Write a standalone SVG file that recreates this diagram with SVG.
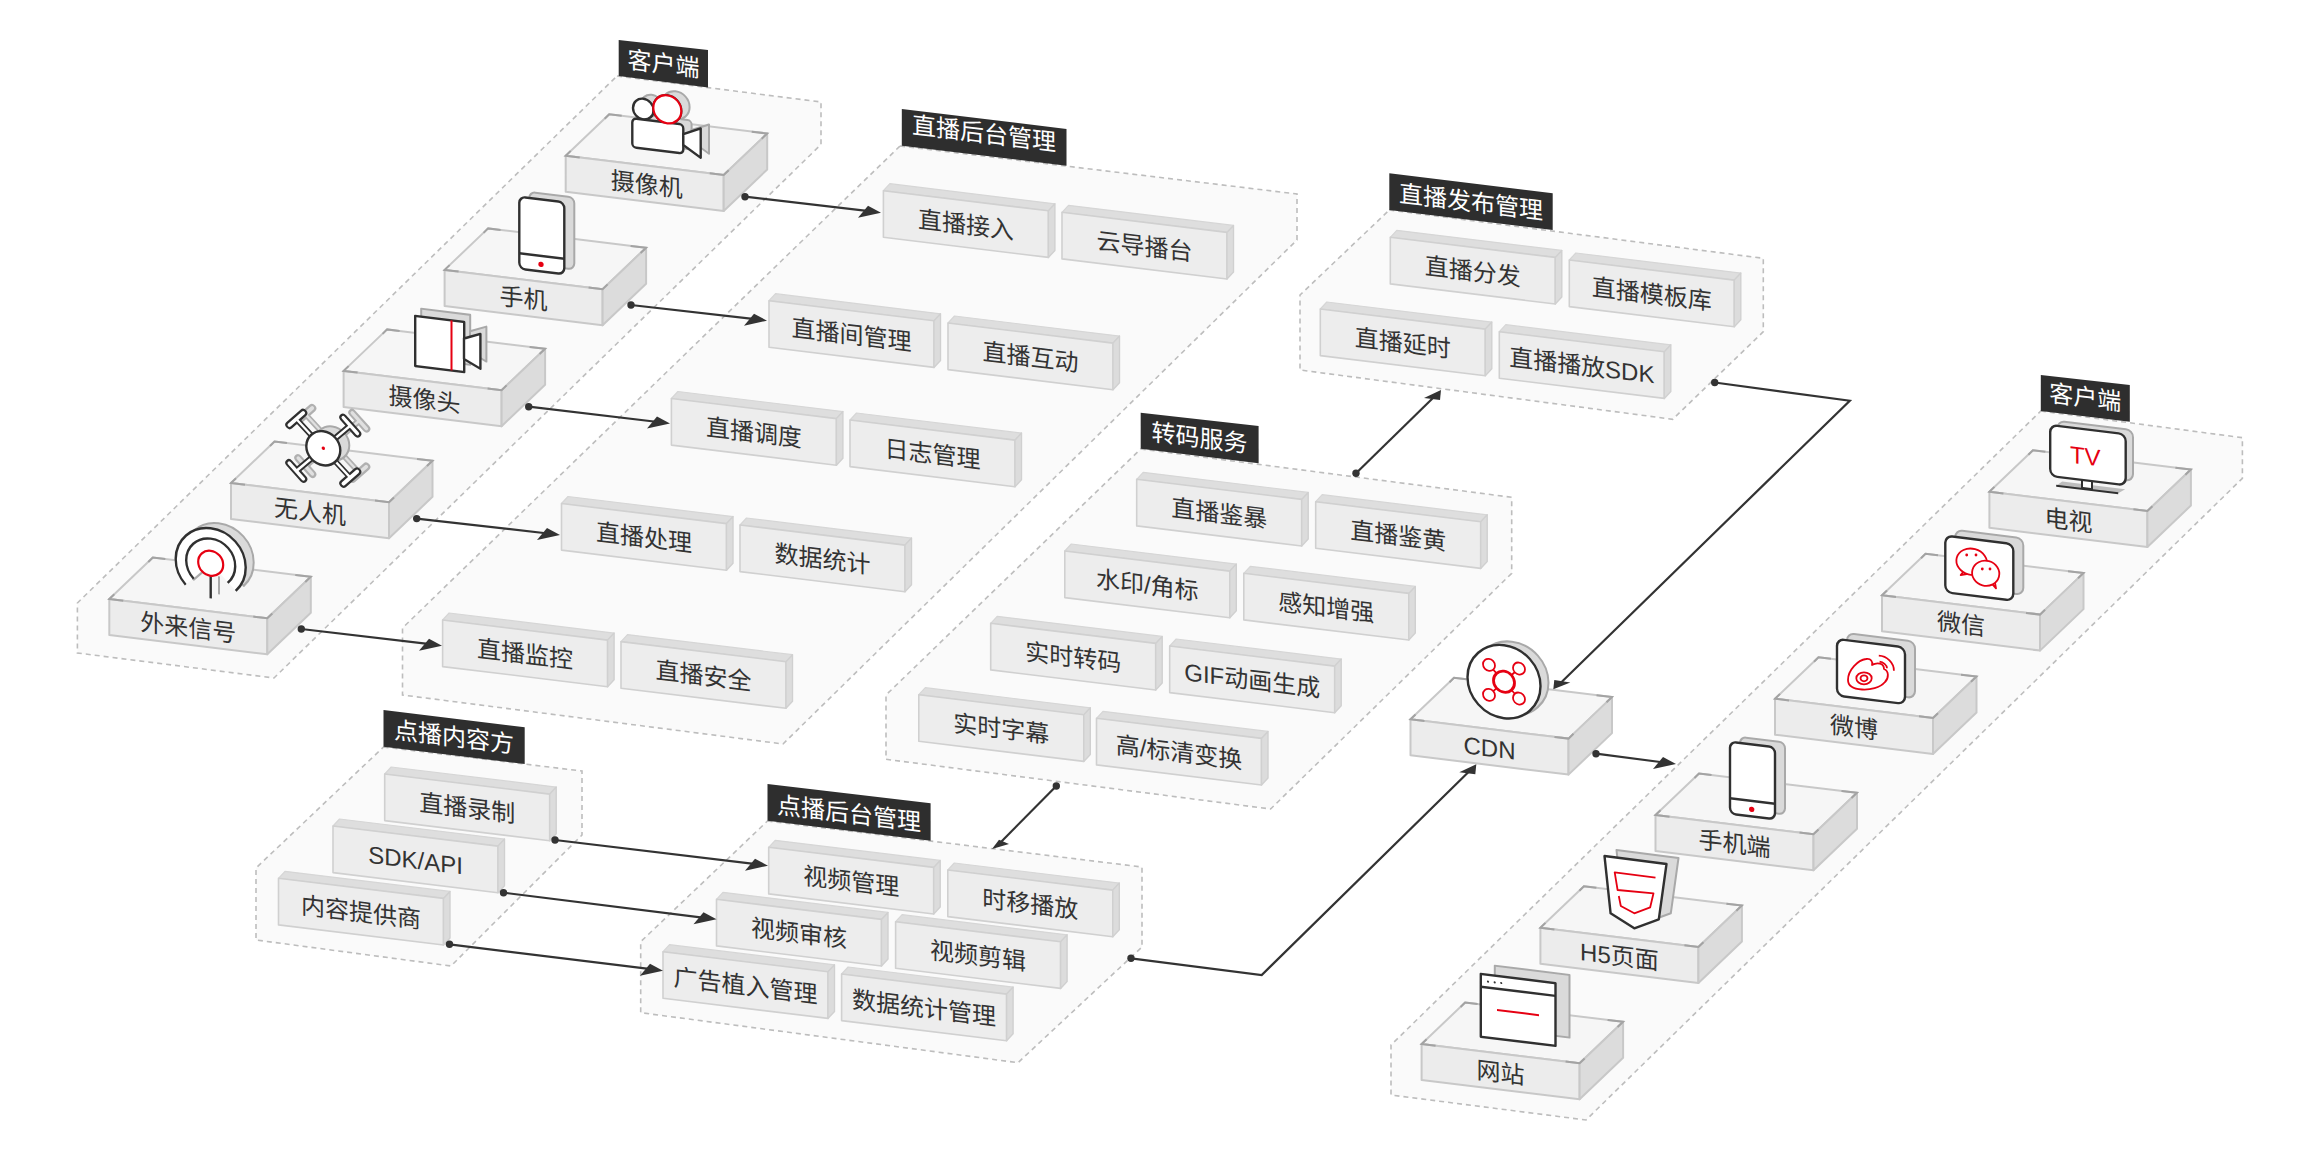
<svg xmlns="http://www.w3.org/2000/svg" width="2320" height="1160" viewBox="0 0 2320 1160">
<style>
text{font-family:"Liberation Sans","Noto Sans CJK SC",sans-serif;font-size:24px;text-anchor:middle;fill:#333}
.lt{fill:#fff}
.tv{fill:#e60012}
.zone{fill:#fafafa;stroke:#bdbdbd;stroke-width:1.6;stroke-dasharray:5 4}
.tag{fill:#2e2e2e}
.c{fill:none;stroke:#333;stroke-width:2.2;marker-start:url(#dot);stroke-linejoin:miter}
.ah{fill:#333}
.bf{fill:#ececec;stroke:#c8c8c8;stroke-width:2;stroke-linejoin:round}
.bt{fill:#f6f6f6;stroke:#c8c8c8;stroke-width:2;stroke-linejoin:round}
.bs{fill:#dcdcdc;stroke:#c8c8c8;stroke-width:2;stroke-linejoin:round}
.bm{fill:none;stroke:#a3a3a3;stroke-width:2}
.cf{fill:#ededed;stroke:#d0d0d0;stroke-width:1.6;stroke-linejoin:round}
.ct{fill:#dedede;stroke:#d6d6d6;stroke-width:1.2;stroke-linejoin:round}
.cs{fill:#dcdcdc;stroke:#d0d0d0;stroke-width:1.4;stroke-linejoin:round}
.sh{fill:#dadada;stroke:#a9a9a9;stroke-width:2;stroke-linejoin:round}
.fr{fill:#fff;stroke:#303030;stroke-width:2.4;stroke-linejoin:round}
.rl{fill:none;stroke:#e60012;stroke-width:1.8;stroke-linejoin:round}
.rw{fill:#fff;stroke:#e60012;stroke-width:1.8;stroke-linejoin:round}
.rd{fill:#e60012}
.ln{fill:none;stroke:#303030;stroke-width:2.4}
.sl{fill:none;stroke:#a9a9a9;stroke-width:2}
</style>
<defs>
<marker id="dot" markerUnits="userSpaceOnUse" markerWidth="8" markerHeight="8" refX="0" refY="0" overflow="visible" orient="0"><circle class="ah" r="3.7"/></marker>
<marker id="ah" markerUnits="userSpaceOnUse" markerWidth="8" markerHeight="8" refX="-12" refY="-1.5" overflow="visible" orient="0"><path class="ah" d="M0,0L-23,5L-13,-7Z"/></marker>
<marker id="aur" markerUnits="userSpaceOnUse" markerWidth="8" markerHeight="8" refX="-6" refY="6" overflow="visible" orient="0"><path class="ah" d="M0,0L-17,8L-1,10Z"/></marker>
<marker id="adl" markerUnits="userSpaceOnUse" markerWidth="8" markerHeight="8" refX="6" refY="-5" overflow="visible" orient="0"><path class="ah" d="M0,0L1,-9.3L17,-6.7Z"/></marker>
<marker id="adm" markerUnits="userSpaceOnUse" markerWidth="8" markerHeight="8" refX="7" refY="-5" overflow="visible" orient="0"><path class="ah" d="M0,0L7,-9.3L17,-5Z"/></marker>
<g id="box">
<path class="bt" d="M0,0L43.5,-41.5L201.5,-22.2L158,19.3Z"/>
<path class="bf" d="M0,0L158,19.3V55.3L0,36Z"/>
<path class="bs" d="M158,19.3L201.5,-22.2V13.8L158,55.3Z"/>
<path class="bm" d="M14,1.7L0,0L5,-4.8M39,-37L43.5,-41.5L56,-40M186,-24L201.5,-22.2L196,-17M144,17.6L158,19.3L163,14.5"/>
</g>
<g id="card">
<path class="ct" d="M0,0L6.5,-7L171.5,13.1L165,20.1Z"/>
<path class="cf" d="M0,0L165,20.1V66.7L0,46.6Z"/>
<path class="cs" d="M165,20.1L171.5,13.1V59.7L165,66.7Z"/>
</g>
<rect id="phone" width="45" height="72" rx="6"/>
<rect id="tile" width="68" height="56.6" rx="7"/>
<g id="movie"><circle cx="11" cy="-10.6" r="10.3"/><circle cx="35" cy="-13.3" r="14"/><rect width="51" height="29" rx="4"/><path d="M51,9.5L68.4,1.7V31L51,20.5Z"/></g>
<g id="webcam"><rect width="49" height="50"/><path d="M48.8,16.5L65.2,9.9V44.8L48.8,37Z"/></g>
<path id="fan" d="M-25,24.5A35,35 0 1 1 25,24.5L0,0Z"/>
<path id="darm" d="M-27,-26L27,26M27,-26L-27,26"/>
<path id="dbar" d="M-34,-19L-20,-33M20,-33L34,-19M-34,19L-20,33M20,33L34,19"/>
<path id="shield" d="M64.1,-71.7L126.1,-63.7L118.4,-8.4L93.9,.6L70.2,-14.4Z"/>
<rect id="win" width="74.7" height="62.7"/>
</defs>

<g id="zones">
<g id="zone-client-left"><path class="zone" d="M617,76L821,102V144.5L274,678L77.4,653V603Z"/><path class="tag" d="M618.7,40L708,50V87.5L618.7,76Z"/><text class="lt" transform="translate(663.4,46.5) skewY(7)" y="26">客户端</text></g>
<g id="zone-live-admin"><path class="zone" d="M900,146L1297,194V240L783,744L402.5,695V628Z"/><path class="tag" d="M901.8,109L1066.5,129V165.7L901.8,145.7Z"/><text class="lt" transform="translate(984,116) skewY(7)" y="26">直播后台管理</text></g>
<g id="zone-publish"><path class="zone" d="M1389.3,210L1763.3,258.3V331.7L1672.7,419.3L1300,370V295Z"/><path class="tag" d="M1389.3,173.3L1552.7,193.3V230L1389.3,210Z"/><text class="lt" transform="translate(1471,184.5) skewY(7)" y="26">直播发布管理</text></g>
<g id="zone-transcode"><path class="zone" d="M1140.7,449L1511.7,497.3V573.3L1270.6,809L886,759.3V695Z"/><path class="tag" d="M1140.7,412.7L1258.6,426V463.3L1140.7,448.7Z"/><text class="lt" transform="translate(1199.6,420.5) skewY(7)" y="26">转码服务</text></g>
<g id="zone-vod-source"><path class="zone" d="M383.5,747L582,771V835L451,966L256,940V868Z"/><path class="tag" d="M383.5,710L524.7,727.3V764L383.5,746.7Z"/><text class="lt" transform="translate(454,719.5) skewY(7)" y="26">点播内容方</text></g>
<g id="zone-vod-admin"><path class="zone" d="M767.5,821L1142,867V947L1018,1062.7L640.7,1012.7V941.7Z"/><path class="tag" d="M767.5,784L930.6,803.3V840.7L767.5,820.7Z"/><text class="lt" transform="translate(849,796) skewY(7)" y="26">点播后台管理</text></g>
<g id="zone-client-right"><path class="zone" d="M2040.8,411L2242.4,437.7V478.3L1586,1120L1391,1095V1045Z"/><path class="tag" d="M2040.8,375L2129.8,385V421.7L2040.8,411Z"/><text class="lt" transform="translate(2085.3,380) skewY(7)" y="26">客户端</text></g>
</g>

<g id="n-camera" transform="translate(565.7,155.7)"><use href="#box"/><text transform="skewY(7)" x="81" y="27.5">摄像机</text>
<g transform="translate(66.6,-37.4) skewY(7)"><use href="#movie" class="sh" x="8.3" y="-5"/><use href="#movie" class="fr"/><circle class="rw" cx="35" cy="-13.3" r="14" style="stroke-width:2.2"/></g></g>
<g id="n-phone" transform="translate(444.6,269.9)"><use href="#box"/><text transform="skewY(7)" x="79" y="27.5">手机</text>
<g transform="translate(74.7,-73.2) skewY(7)"><use href="#phone" class="sh" x="10" y="-6"/><use href="#phone" class="fr"/><path class="ln" d="M0,56.5H45"/><circle class="rd" cx="21.7" cy="65" r="2.7"/></g></g>
<g id="n-webcam" transform="translate(343.6,370.9)"><use href="#box"/><text transform="skewY(7)" x="81" y="27.5">摄像头</text>
<g transform="translate(71.6,-54.9) skewY(7)"><use href="#webcam" class="sh" x="6" y="-8"/><use href="#webcam" class="fr"/><path class="rl" d="M36.3,0V50" style="stroke-width:2"/></g></g>
<g id="n-drone" transform="translate(231,483)"><use href="#box"/><text transform="skewY(7)" x="79" y="27.5">无人机</text>
<g transform="translate(92.3,-34.7) skewY(7)">
<g transform="translate(9,-6)"><use href="#darm" fill="none" stroke="#b0b0b0" stroke-width="6"/><use href="#dbar" fill="none" stroke="#b0b0b0" stroke-width="8" stroke-linecap="round"/><use href="#darm" fill="none" stroke="#e0e0e0" stroke-width="2.4"/><use href="#dbar" fill="none" stroke="#e0e0e0" stroke-width="3.6" stroke-linecap="round"/><circle class="sh" r="17"/></g>
<use href="#darm" fill="none" stroke="#303030" stroke-width="6"/><use href="#dbar" fill="none" stroke="#303030" stroke-width="8" stroke-linecap="round"/><use href="#darm" fill="none" stroke="#fff" stroke-width="2.4"/><use href="#dbar" fill="none" stroke="#fff" stroke-width="3.6" stroke-linecap="round"/><circle class="fr" r="17"/><circle class="rd" r="1.7"/></g></g>
<g id="n-signal" transform="translate(109.3,599)"><use href="#box"/><text transform="skewY(7)" x="79" y="27.5">外来信号</text>
<g transform="translate(101.4,-35.7) skewY(7)"><use href="#fan" class="sh" x="8" y="-6"/><path class="sl" d="M8.3,12V30"/><use href="#fan" fill="#fff"/><path class="ln" d="M-25,24.5A35,35 0 1 1 25,24.5M-17,17.5A24.5,24.5 0 1 1 17,17.5M0,12.5V35"/><circle class="rw" r="12.5" style="stroke-width:2.2"/></g></g>

<g id="n-live-access" transform="translate(883.4,190.7)"><use href="#card"/><text transform="skewY(7)" x="82.5" y="32.5">直播接入</text></g>
<g id="n-cloud-switch" transform="translate(1062,212.3)"><use href="#card"/><text transform="skewY(7)" x="82.5" y="32.5">云导播台</text></g>
<g id="n-room" transform="translate(769,300.7)"><use href="#card"/><text transform="skewY(7)" x="82.5" y="32.5">直播间管理</text></g>
<g id="n-interact" transform="translate(948,323)"><use href="#card"/><text transform="skewY(7)" x="82.5" y="32.5">直播互动</text></g>
<g id="n-schedule" transform="translate(671.4,398.5)"><use href="#card"/><text transform="skewY(7)" x="82.5" y="32.5">直播调度</text></g>
<g id="n-log" transform="translate(850,420)"><use href="#card"/><text transform="skewY(7)" x="82.5" y="32.5">日志管理</text></g>
<g id="n-process" transform="translate(561.5,503.5)"><use href="#card"/><text transform="skewY(7)" x="82.5" y="32.5">直播处理</text></g>
<g id="n-stats" transform="translate(740,525)"><use href="#card"/><text transform="skewY(7)" x="82.5" y="32.5">数据统计</text></g>
<g id="n-monitor" transform="translate(442.6,620)"><use href="#card"/><text transform="skewY(7)" x="82.5" y="32.5">直播监控</text></g>
<g id="n-security" transform="translate(621,641.6)"><use href="#card"/><text transform="skewY(7)" x="82.5" y="32.5">直播安全</text></g>

<g id="n-distribute" transform="translate(1390.3,237.3)"><use href="#card"/><text transform="skewY(7)" x="82.5" y="32.5">直播分发</text></g>
<g id="n-template" transform="translate(1569.3,260)"><use href="#card"/><text transform="skewY(7)" x="82.5" y="32.5">直播模板库</text></g>
<g id="n-delay" transform="translate(1320.3,309)"><use href="#card"/><text transform="skewY(7)" x="82.5" y="32.5">直播延时</text></g>
<g id="n-sdk" transform="translate(1499.3,331.7)"><use href="#card"/><text transform="skewY(7)" x="82.5" y="32.5">直播播放SDK</text></g>

<g id="n-violence" transform="translate(1136.7,479.3)"><use href="#card"/><text transform="skewY(7)" x="82.5" y="32.5">直播鉴暴</text></g>
<g id="n-porn" transform="translate(1315.7,501.7)"><use href="#card"/><text transform="skewY(7)" x="82.5" y="32.5">直播鉴黄</text></g>
<g id="n-watermark" transform="translate(1064.8,551)"><use href="#card"/><text transform="skewY(7)" x="82.5" y="32.5">水印/角标</text></g>
<g id="n-enhance" transform="translate(1243.8,573.3)"><use href="#card"/><text transform="skewY(7)" x="82.5" y="32.5">感知增强</text></g>
<g id="n-realtime" transform="translate(990.7,623.3)"><use href="#card"/><text transform="skewY(7)" x="82.5" y="32.5">实时转码</text></g>
<g id="n-gif" transform="translate(1169.7,646)"><use href="#card"/><text transform="skewY(7)" x="82.5" y="32.5">GIF动画生成</text></g>
<g id="n-subtitle" transform="translate(918.8,694.7)"><use href="#card"/><text transform="skewY(7)" x="82.5" y="32.5">实时字幕</text></g>
<g id="n-resolution" transform="translate(1096.5,718.3)"><use href="#card"/><text transform="skewY(7)" x="82.5" y="32.5">高/标清变换</text></g>

<g id="n-record" transform="translate(384.7,774)"><use href="#card"/><text transform="skewY(7)" x="82.5" y="32.5">直播录制</text></g>
<g id="n-sdkapi" transform="translate(333,826)"><use href="#card"/><text transform="skewY(7)" x="82.5" y="32.5">SDK/API</text></g>
<g id="n-provider" transform="translate(278.5,878.3)"><use href="#card"/><text transform="skewY(7)" x="82.5" y="32.5">内容提供商</text></g>

<g id="n-video-mgmt" transform="translate(768.7,847.3)"><use href="#card"/><text transform="skewY(7)" x="82.5" y="32.5">视频管理</text></g>
<g id="n-timeshift" transform="translate(947.8,870)"><use href="#card"/><text transform="skewY(7)" x="82.5" y="32.5">时移播放</text></g>
<g id="n-review" transform="translate(716.5,899.3)"><use href="#card"/><text transform="skewY(7)" x="82.5" y="32.5">视频审核</text></g>
<g id="n-edit" transform="translate(895.6,921.7)"><use href="#card"/><text transform="skewY(7)" x="82.5" y="32.5">视频剪辑</text></g>
<g id="n-ads" transform="translate(663,951.7)"><use href="#card"/><text transform="skewY(7)" x="82.5" y="32.5">广告植入管理</text></g>
<g id="n-vod-stats" transform="translate(841.6,974)"><use href="#card"/><text transform="skewY(7)" x="82.5" y="32.5">数据统计管理</text></g>

<g id="n-cdn" transform="translate(1410.5,719.3)"><use href="#box"/><text transform="skewY(7)" x="79" y="27.5">CDN</text>
<g transform="translate(93.5,-37.6) skewY(7)"><circle class="sh" cx="8" cy="-4.5" r="36.5"/><circle class="fr" r="36.5"/><path class="rl" d="M-15,-15L-7,-7M15,-15L7,-7M-15,15L-7,7M15,15L7,7"/><circle class="rw" cx="-15" cy="-15" r="6"/><circle class="rw" cx="15" cy="-15" r="6"/><circle class="rw" cx="-15" cy="15" r="6"/><circle class="rw" cx="15" cy="15" r="6"/><circle class="rw" r="10.5" style="stroke-width:2.8"/></g></g>

<g id="n-tv" transform="translate(1989.4,491.7)"><use href="#box"/><text transform="skewY(7)" x="79" y="27.5">电视</text>
<g transform="translate(60.8,-66.7) skewY(7)"><rect class="sh" x="7.3" y="-5" width="75.5" height="51" rx="7"/><path d="M12,55L75,55L68,60L6,60Z" fill="#bdbdbd"/><path class="ln" d="M6,60H68" style="stroke-width:2"/><path class="fr" d="M31.8,50H41.8V59H31.8Z" style="stroke-width:2"/><rect class="fr" width="75.5" height="51" rx="7"/><text class="tv" transform="translate(35.1,0)" y="35.3">TV</text></g></g>
<g id="n-wechat" transform="translate(1882,595.3)"><use href="#box"/><text transform="skewY(7)" x="79" y="27.5">微信</text>
<g transform="translate(63.3,-59.6)"><g transform="skewY(7)"><use href="#tile" class="sh" x="10" y="-7"/><use href="#tile" class="fr"/></g>
<path class="rw" d="M18,36L15.4,39.3L21.4,38.3Z"/><ellipse class="rw" cx="26.4" cy="26" rx="15.5" ry="13" transform="rotate(15 26.4 26)"/><path class="rw" d="M46.4,47.6L50.7,52.6L49.7,47Z"/><ellipse class="rw" cx="40.4" cy="37.6" rx="13.7" ry="12.5" transform="rotate(15 40.4 37.6)"/>
<circle class="rd" cx="21.4" cy="19.3" r="1.4"/><circle class="rd" cx="30.7" cy="19.3" r="1.4"/><circle class="rd" cx="37" cy="33.3" r="1.4"/><circle class="rd" cx="44.7" cy="33.3" r="1.4"/></g></g>
<g id="n-weibo" transform="translate(1775,698.7)"><use href="#box"/><text transform="skewY(7)" x="79" y="27.5">微博</text>
<g transform="translate(62,-59.7)"><g transform="skewY(7)"><use href="#tile" class="sh" x="10" y="-7"/><use href="#tile" class="fr"/></g>
<path class="rl" d="M11,41C11,31 21,21 29,20C34,19 36,23 35,26C40,23 47,24 47,30C52,32 52,39 48,43C43,49 33,51 25,50.5C17,50 11,47 11,41ZM41.8,16.7C50,17 57,24 56.9,31.7M42.6,22.7C46,23 50,26 50,29.3"/><ellipse class="rl" cx="27" cy="39.3" rx="7.7" ry="6"/><ellipse class="rl" cx="27" cy="39.3" rx="3.5" ry="3"/></g></g>
<g id="n-mobile" transform="translate(1655.5,815)"><use href="#box"/><text transform="skewY(7)" x="79" y="27.5">手机端</text>
<g transform="translate(74.5,-73.3) skewY(7)"><use href="#phone" class="sh" x="10" y="-6"/><use href="#phone" class="fr"/><path class="ln" d="M0,56.5H45"/><circle class="rd" cx="21.7" cy="65" r="2.7"/></g></g>
<g id="n-h5" transform="translate(1540.4,927.7)"><use href="#box"/><text transform="skewY(7)" x="79" y="27.5">H5页面</text>
<use href="#shield" class="sh" x="12" y="-6"/><use href="#shield" class="fr"/><path class="rl" d="M115.1,-50L74.3,-55.4L77.2,-37.7L113.1,-34.4L109.8,-20.4L93.9,-14.4L80.4,-21.7L78.4,-31.7"/></g>
<g id="n-web" transform="translate(1421.6,1044)"><use href="#box"/><text transform="skewY(7)" x="79" y="27.5">网站</text>
<g transform="translate(59.2,-70) skewY(7)"><use href="#win" class="sh" x="14" y="-10"/><use href="#win" class="fr"/><path class="ln" d="M0,12.7H74.7"/><circle class="ah" cx="7.2" cy="6.8" r="1.1"/><circle class="ah" cx="13.9" cy="6.6" r="1.1"/><circle class="ah" cx="20.4" cy="6.5" r="1.1"/><path class="rl" d="M16.2,34H58.2" style="stroke-width:2"/></g></g>

<g id="connectors">
<path class="c" marker-end="url(#ah)" d="M745,196.7L869,211.2"/>
<path class="c" marker-end="url(#ah)" d="M631,305L755,319.2"/>
<path class="c" marker-end="url(#ah)" d="M528.7,406.7L658,422"/>
<path class="c" marker-end="url(#ah)" d="M416.7,518.6L548,533.5"/>
<path class="c" marker-end="url(#ah)" d="M301.3,629L430,644.2"/>
<path class="c" marker-end="url(#ah)" d="M555,840L756,864.2"/>
<path class="c" marker-end="url(#ah)" d="M503.5,892.7L704.5,917.8"/>
<path class="c" marker-end="url(#ah)" d="M449.5,944.3L651,969.2"/>
<path class="c" marker-end="url(#ah)" d="M1596,753.7L1664,762.5"/>
<path class="c" marker-end="url(#aur)" d="M1356,473.3L1435,396"/>
<path class="c" marker-end="url(#adm)" d="M1056.3,786L999,844"/>
<path class="c" marker-end="url(#aur)" d="M1131,958.3L1261.7,975L1470.3,770.3"/>
<path class="c" marker-end="url(#adl)" d="M1714.7,382.5L1849.8,400.7L1559.3,684.3"/>
</g>
</svg>
